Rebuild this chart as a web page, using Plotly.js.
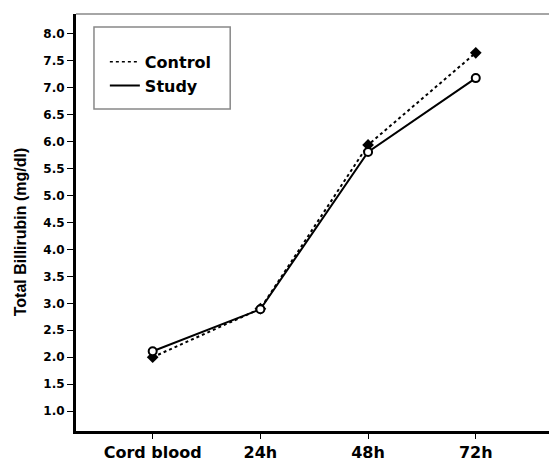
<!DOCTYPE html>
<html>
<head>
<meta charset="utf-8">
<script src="https://cdn.plot.ly/plotly-3.0.1.min.js"></script>
<style>html,body{margin:0;padding:0;background:#fff;}#chart{width:549px;height:461px;}</style>
</head>
<body>
<div id="chart"></div>
<script>
var categories = ["Cord blood", "24h", "48h", "72h"];
var controlValues = [2.0, 2.9, 5.94, 7.65];
var studyValues = [2.11, 2.89, 5.81, 7.18];
var yTickValues = [1.0, 1.5, 2.0, 2.5, 3.0, 3.5, 4.0, 4.5, 5.0, 5.5, 6.0, 6.5, 7.0, 7.5, 8.0];
var yTickLabels = yTickValues.map(function(v){ return v.toFixed(1); });
var yTitle = 'Total Billirubin (mg/dl)';
var xIdx = categories.map(function(c, i){ return i; });

var wideFont = "'DejaVu Sans', Verdana, sans-serif";
var narrowFont = "'Liberation Sans', Arial, Helvetica, sans-serif";

var traces = [
  {x: xIdx, y: controlValues, mode: 'lines+markers', name: 'Control', showlegend: false,
   line: {color: '#000', width: 2, dash: 'dot'},
   marker: {symbol: 'diamond', size: 9, color: '#000'}},
  {x: xIdx, y: studyValues, mode: 'lines+markers', name: 'Study', showlegend: false,
   line: {color: '#000', width: 2},
   marker: {symbol: 'circle', size: 8, color: '#fff', line: {color: '#000', width: 2}}},
  {x: [null], y: [null], mode: 'lines', name: 'Control', line: {color: '#000', width: 1.5, dash: 'dot'}},
  {x: [null], y: [null], mode: 'lines', name: 'Study', line: {color: '#000', width: 2}}
];

var layout = {
  width: 549, height: 461,
  margin: {l: 76, r: 0, t: 14, b: 30, pad: 0},
  paper_bgcolor: '#fff', plot_bgcolor: '#fff',
  font: {family: narrowFont, color: '#000'},
  showlegend: true,
  legend: {x: 0.061, y: 0.926, xanchor: 'left', yanchor: 'top', bgcolor: 'rgba(0,0,0,0)', borderwidth: 0,
           font: {size: 16, family: wideFont, weight: 'bold', color: '#000'}, itemwidth: 30, tracegroupgap: 0},
  xaxis: {
    range: [-0.712, 3.68], tickvals: xIdx, ticktext: categories,
    showgrid: false, zeroline: false, showline: true, linecolor: '#000', linewidth: 3,
    ticks: 'outside', ticklen: 5, tickwidth: 1, tickcolor: '#000',
    tickfont: {size: 16, family: wideFont, weight: 'bold', color: '#000'}
  },
  yaxis: {
    range: [0.63, 8.37], tickvals: yTickValues, ticktext: yTickLabels,
    showgrid: false, zeroline: false, showline: true, linecolor: '#000', linewidth: 3,
    ticks: 'outside', ticklen: 6, tickwidth: 1, tickcolor: '#000',
    tickfont: {size: 12, family: wideFont, weight: 'bold', color: '#000'}
  },
  annotations: [
    {text: '<b>' + yTitle + '</b>', xref: 'paper', yref: 'paper', x: -0.1184, y: 0.479,
     xanchor: 'center', yanchor: 'middle', textangle: -90, showarrow: false,
     font: {size: 16, family: narrowFont, color: '#000'}}
  ],
  shapes: [
    {type: 'line', xref: 'paper', yref: 'paper', x0: 0, x1: 1, y0: 1, y1: 1, line: {color: '#888', width: 1.5}},
    {type: 'rect', xref: 'paper', yref: 'paper', x0: 0.038, x1: 0.326, y0: 0.969, y1: 0.772,
     line: {color: '#888', width: 1.5}, fillcolor: 'rgba(0,0,0,0)'}
  ]
};

Plotly.newPlot('chart', traces, layout, {staticPlot: true, displayModeBar: false});
</script>
</body>
</html>
